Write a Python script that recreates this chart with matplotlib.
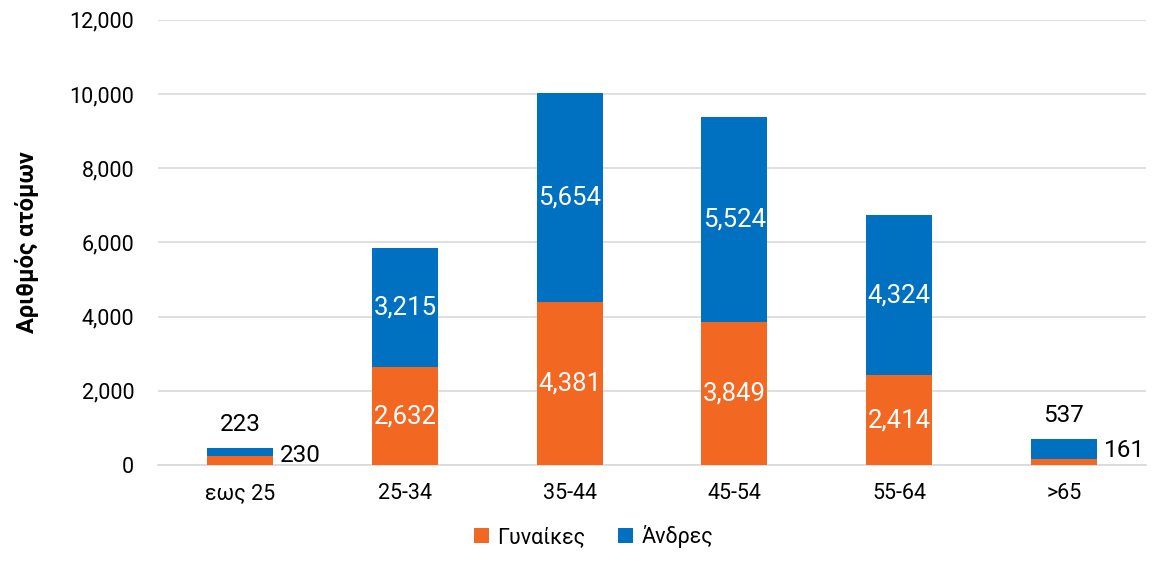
import matplotlib
matplotlib.use("Agg")
import matplotlib.pyplot as plt
from matplotlib.ticker import FuncFormatter

categories = ["εως 25", "25-34", "35-44", "45-54", "55-64", ">65"]
women = [230, 2632, 4381, 3849, 2414, 161]
men = [223, 3215, 5654, 5524, 4324, 537]
series_names = ["Γυναίκες", "Άνδρες"]

plt.rcParams['font.family'] = ['Roboto', 'DejaVu Sans']

c_w = "#F26722"
c_m = "#0070C0"

fig = plt.figure(figsize=(11.52, 5.65), dpi=100)
ax = fig.add_axes([0.137, 0.177, 0.858, 0.788])

x = list(range(len(categories)))
bw = 0.4
bars_w = ax.bar(x, women, bw, color=c_w, label=series_names[0], zorder=3)
bars_m = ax.bar(x, men, bw, bottom=women, color=c_m, label=series_names[1], zorder=3)

for i in x:
    total = women[i] + men[i]
    if total < 1500:
        ax.annotate(f"{men[i]:,}", (i, total), xytext=(0, 9), textcoords="offset points",
                    ha="center", va="bottom", fontsize=17.5, color="black")
        ax.annotate(f"{women[i]:,}", (i + bw / 2, total / 2), xytext=(5, 1), textcoords="offset points",
                    ha="left", va="center", fontsize=17.5, color="black")
    else:
        ax.text(i, women[i] / 2, f"{women[i]:,}", ha="center", va="center", fontsize=18.5, color="white", zorder=4)
        ax.text(i, women[i] + men[i] / 2, f"{men[i]:,}", ha="center", va="center", fontsize=18.5, color="white", zorder=4)

ax.set_xlim(-0.5, len(categories) - 0.5)
ax.set_ylim(0, 12000)
ax.set_yticks(range(0, 12001, 2000))
ax.yaxis.set_major_formatter(FuncFormatter(lambda v, p: f"{int(v):,}"))
ax.set_xticks(x)
ax.set_xticklabels(categories)
ax.tick_params(axis="both", length=0, labelsize=15.5)
ax.tick_params(axis="x", pad=13)
ax.tick_params(axis="y", pad=17)
ax.grid(axis="y", color="#d9d9d9", linewidth=1.2, zorder=0)
for s in ["top", "right", "left"]:
    ax.spines[s].set_visible(False)
ax.spines["bottom"].set_color("#d9d9d9")
ax.spines["bottom"].set_linewidth(1.2)

ax.set_ylabel("Αριθμός ατόμων", fontsize=17, fontweight="bold", labelpad=22)

fig.legend(handles=[bars_w, bars_m], labels=series_names, loc="lower center",
           bbox_to_anchor=(0.515, -0.005), ncol=2, frameon=False, fontsize=15.5,
           handlelength=0.7, handleheight=0.7, handletextpad=0.4, columnspacing=1.5)

fig.savefig("out.png", dpi=100)
